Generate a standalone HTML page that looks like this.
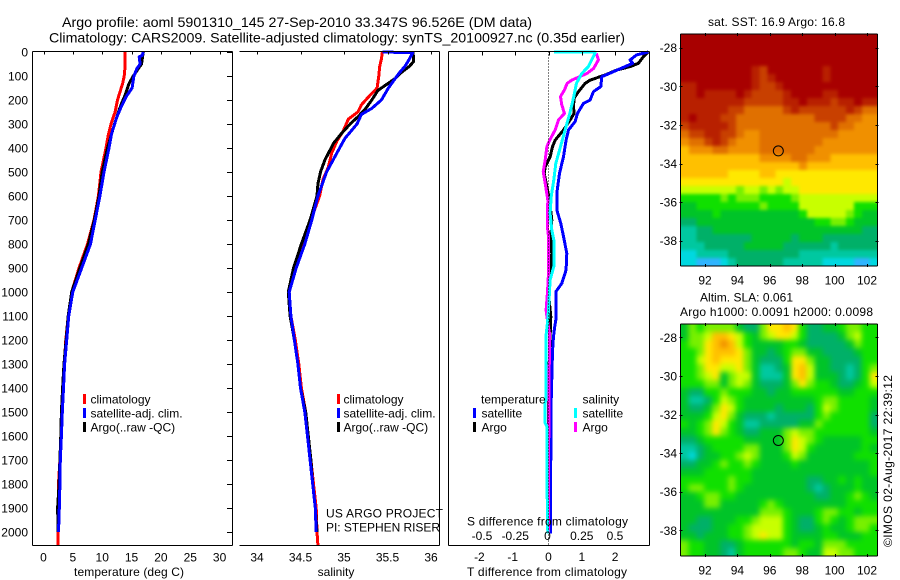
<!DOCTYPE html>
<html lang="en">
<head>
<meta charset="utf-8">
<title>Argo profile chart</title>
<style>
html,body{margin:0;padding:0;background:#fff;}
#chart{display:block;width:900px;height:580px;}
text{font-family:"Liberation Sans",sans-serif;font-size:12px;fill:#000;}
</style>
</head>
<body>
<svg id="chart" width="900" height="580" viewBox="0 0 900 580" xmlns="http://www.w3.org/2000/svg">
<defs>
<filter id="blur-sst" x="660" y="14" width="240" height="272" filterUnits="userSpaceOnUse" color-interpolation-filters="sRGB"><feGaussianBlur stdDeviation="1.5"/></filter>
<filter id="blur-sla" x="660" y="304" width="240" height="272" filterUnits="userSpaceOnUse" color-interpolation-filters="sRGB"><feGaussianBlur stdDeviation="2.6"/></filter>
<clipPath id="clip-sst"><rect x="680" y="34" width="198" height="232"/></clipPath>
<clipPath id="clip-sla"><rect x="680" y="324" width="198" height="232"/></clipPath>
</defs>
<text x="62" y="27" style="font-size:14px" textLength="470" lengthAdjust="spacingAndGlyphs">Argo profile: aoml 5901310_145 27-Sep-2010 33.347S 96.526E (DM data)</text>
<text x="49" y="42.5" style="font-size:14px" textLength="576" lengthAdjust="spacingAndGlyphs">Climatology: CARS2009. Satellite-adjusted climatology: synTS_20100927.nc (0.35d earlier)</text>
<g id="layer-maps"></g>
<g id="layer-lines"></g>
<g id="layer-axes"></g>

<text x="74" y="576" textLength="110">temperature (deg C)</text>
<text x="336" y="576" text-anchor="middle">salinity</text>
<text x="467" y="576" textLength="160">T difference from climatology</text>
<text x="467" y="525.5" textLength="161">S difference from climatology</text>

<g>
<rect x="83" y="394" width="3" height="10" fill="#ff0000"/>
<rect x="83" y="408" width="3" height="10" fill="#0000ff"/>
<rect x="83" y="422" width="3" height="10" fill="#000000"/>
<text x="90.5" y="403.5">climatology</text>
<text x="90.5" y="417.5">satellite-adj. clim.</text>
<text x="90.5" y="431.5">Argo(..raw -QC)</text>
</g>
<g>
<rect x="337" y="394" width="3" height="10" fill="#ff0000"/>
<rect x="337" y="408" width="3" height="10" fill="#0000ff"/>
<rect x="337" y="422" width="3" height="10" fill="#000000"/>
<text x="343.5" y="403.5">climatology</text>
<text x="343.5" y="417.5">satellite-adj. clim.</text>
<text x="343.5" y="431.5">Argo(..raw -QC)</text>
<text x="326" y="517.5" textLength="117">US ARGO PROJECT</text>
<text x="326" y="531.5" textLength="114">PI: STEPHEN RISER</text>
</g>
<g>
<text x="481" y="403.5">temperature</text>
<text x="582.5" y="403.5">salinity</text>
<rect x="473" y="408" width="3" height="10" fill="#0000ff"/>
<rect x="473" y="422" width="3" height="10" fill="#000000"/>
<rect x="574" y="408" width="3" height="10" fill="#00ffff"/>
<rect x="574" y="422" width="3" height="10" fill="#ff00ff"/>
<text x="481.5" y="417.5">satellite</text>
<text x="481.5" y="431.5">Argo</text>
<text x="582.5" y="417.5">satellite</text>
<text x="582.5" y="431.5">Argo</text>
</g>

<text x="708" y="26" textLength="137">sat. SST: 16.9 Argo: 16.8</text>
<text x="700" y="301.5" textLength="93">Altim. SLA: 0.061</text>
<text x="680" y="316" textLength="193">Argo h1000: 0.0091 h2000: 0.0098</text>
<text transform="translate(892,547) rotate(-90)" textLength="172">©IMOS 02-Aug-2017 22:39:12</text>
</svg>

<script>
/* ---------- profile data (depth in m) ---------- */
const tempClimDepth = [0,60,100,130,200,250,300,350,400,500,600,700,800,900,1000,1100,1200,1300,1400,1500,1600,1700,1800,1900,2000,2055];
const tempClim = [13.9,13.9,13.75,13.5,12.6,12.2,11.5,11,10.65,9.8,9.35,8.6,7.5,6.05,4.8,4.2,3.8,3.55,3.3,3.1,2.95,2.8,2.55,2.5,2.5,2.5];
const tempSatDepth = [0,15,20,50,70,100,150,185,225,270,340,400,500,600,700,800,900,1000,1100,1200,1300,1400,1500,1600,1700,1800,1900,2000];
const tempSat = [17,16.8,16.3,16.45,15.9,15.4,15.1,14.1,13.3,12.5,11.6,11.15,10.3,9.6,8.8,8,6.5,5,4.3,3.95,3.6,3.4,3.2,3.05,2.87,2.8,2.7,2.55];
const tempArgoDepth = [0,50,100,130,180,220,300,400,500,600,700,800,900,1000,1100,1200,1300,1400,1500,1600,1700,1800,1900,2000];
const tempArgo = [17,16.7,15.3,14.6,13.9,13.2,12.1,10.9,10,9.45,8.65,7.65,6.2,4.8,4.2,3.85,3.5,3.25,3.05,2.95,2.8,2.65,2.4,2.5];

const salClimDepth = [0,30,60,100,150,180,220,250,280,330,370,420,480,530,600,700,800,900,1000,1100,1200,1300,1400,1500,1600,1700,1800,1900,2000,2055];
const salClim = [35.44,35.43,35.41,35.4,35.38,35.3,35.2,35.16,35.05,34.99,34.92,34.86,34.82,34.76,34.72,34.62,34.52,34.44,34.37,34.39,34.44,34.48,34.51,34.56,34.59,34.62,34.65,34.68,34.69,34.7];
const salSatDepth = [0,3,30,60,85,110,150,200,235,260,300,360,420,500,560,600,700,800,900,1000,1100,1200,1300,1400,1500,1600,1700,1800,1900,2000];
const salSat = [35.44,35.79,35.75,35.7,35.64,35.59,35.51,35.43,35.32,35.2,35.15,35.01,34.92,34.8,34.74,34.7,34.63,34.55,34.45,34.37,34.39,34.43,34.47,34.5,34.55,34.58,34.61,34.64,34.67,34.68];
const salArgoDepth = [0,20,40,60,85,110,130,160,200,240,270,300,340,380,450,500,550,600,700,800,900,1000,1100,1200,1300,1400,1500,1600,1700,1800,1900,2000];
const salArgo = [35.79,35.8,35.8,35.75,35.66,35.59,35.51,35.39,35.32,35.24,35.16,35.07,34.97,34.88,34.78,34.73,34.7,34.69,34.61,34.51,34.42,34.36,34.38,34.43,34.47,34.5,34.56,34.59,34.62,34.64,34.67,34.69];

const dTSatDepth = [0,12,33,47,61,82,103,144,165,200,214,256,290,325,367,436,506,589,658,714,783,839,908,964,999,1075,1117,1151,1186,1248,1450,1852,2006];
const dTSat = [3,2.65,2.45,2.53,2.3,1.95,1.6,1.57,1.35,1.25,1.05,.87,.8,.6,.53,.45,.33,.25,.25,.37,.47,.55,.53,.4,.22,.22,.22,.18,.15,.12,.08,.06,.06];
const dTArgoDepth = [0,19,47,61,75,96,117,131,165,193,228,256,283,325,367,394,436,478,506,561,617,700,783,839,922,1006,1103,1380,2006];
const dTArgo = [3,2.85,2.7,2.45,2.05,1.7,1.25,1.1,.9,.77,.75,.77,.65,.45,.2,.12,.05,-.1,-.13,-.05,.03,.1,.07,.1,.07,0,.07,0,0];
const dSSatDepth = [0,1,6,33,61,89,131,186,256,325,394,464,533,603,672,742,783,894,950,1075,1130,1179,1450,1460,1547,1560,1769,2006];
const dSSat = [.04,.35,.35,.325,.3,.25,.21,.19,.16,.125,.09,.055,.04,.02,.012,.025,.04,.04,.012,0,-.008,-.018,-.018,-.025,-.025,-.012,-.012,-.005];
const dSArgoDepth = [6,33,68,89,117,131,158,186,221,256,283,325,367,394,450,499,547,617,728,769,922,1006,1075,1103,1172,1256,1450,1547,2006];
const dSArgo = [.36,.375,.34,.29,.175,.14,.12,.09,.1,.12,.075,.05,.01,-.012,-.025,-.04,-.025,-.005,-.008,0,0,-.008,-.018,-.012,.007,.007,.002,.002,0];

/* ---------- tick labels ---------- */
const depthTicks = [0,100,200,300,400,500,600,700,800,900,1000,1100,1200,1300,1400,1500,1600,1700,1800,1900,2000];
const tempTicks = [0,5,10,15,20,25,30];
const salTicks = [34,34.5,35,35.5,36];
const salTickLabels = ['34','34.5','35','35.5','36'];
const dTTicks = [-2,-1,0,1,2];
const dTTickLabels = ['-2','-1','0','1','2'];
const dSTicks = [-0.5,-0.25,0,0.25,0.5];
const dSTickLabels = ['-0.5','-0.25','0','0.25','0.5'];
const lonTicks = [92,94,96,98,100,102];
const latTicks = [28,30,32,34,36,38];

/* ---------- map values (colour-scale level, 0 = cold/low, 14 = warm/high) ---------- */
const sstRows = [
[14,14,14,14,14,14,14,14,14,14,14,14,14,14,14,14,14,14,14,14,14,14,14,14,14],
[14,14,14,14,14,14,14,14,14,14,14,14,14,14,14,14,14,14,14,14,14,14,14,14,14],
[14,14,14,14,14,14,14,14,14,14,14,14,14,14,14,14,14,14,14,14,14,14,14,14,14],
[14,14,14,14,14,14,14,14,14,14,14,14,14,14,14,14,14,14,14,14,14,14,14,14,14],
[14,14,14,14,14,14,14,14,14,13,12,14,14,14,14,14,14,14,13,14,14,14,14,14,14],
[14,14,14,14,14,14,14,14,14,13,12,13,14,14,14,14,14,14,13,14,14,14,14,14,14],
[13,13,14,14,14,14,14,14,14,13,12,12,13,14,14,14,14,14,14,14,14,14,14,14,14],
[13,13,14,13,13,13,13,14,13,12,12,12,12,13,14,14,14,14,13,13,14,14,14,14,14],
[13,13,13,13,13,13,13,13,12,12,12,12,12,13,13,14,13,13,13,12,13,13,14,13,13],
[13,13,13,13,13,13,12,12,11,11,11,11,11,12,13,12,12,12,12,12,12,13,12,11,11],
[13,14,13,13,13,12,12,11,11,11,11,11,11,11,11,11,11,12,12,12,12,11,11,10,10],
[12,13,13,13,13,13,12,11,11,11,11,11,11,11,11,11,11,11,11,12,11,11,10,10,10],
[11,12,12,13,13,12,12,11,10,10,11,11,11,11,11,11,11,11,11,11,10,10,10,10,10],
[10,11,11,12,13,12,11,10,10,10,11,11,11,11,11,11,11,11,10,10,10,10,10,10,10],
[9,10,10,10,11,11,10,10,10,10,11,11,11,11,11,11,11,10,10,10,10,10,10,10,10],
[9,9,9,9,9,9,9,9,9,9,10,10,10,10,11,11,10,10,10,9,9,9,9,9,9],
[9,9,9,9,9,9,9,9,9,9,9,9,9,9,9,10,9,9,9,9,9,9,9,9,9],
[9,9,9,9,9,9,8,8,8,8,9,9,8,8,8,8,8,8,8,8,8,8,8,8,8],
[8,8,8,8,8,8,8,8,8,8,8,8,8,7,8,8,8,8,8,8,8,8,8,8,8],
[7,7,7,7,7,7,7,6,7,7,6,7,6,7,7,8,8,8,8,8,8,8,8,8,8],
[5,5,5,5,5,6,5,6,6,6,5,5,5,5,6,7,7,7,7,7,7,7,7,7,7],
[4,4,5,5,5,5,5,5,5,5,6,5,5,5,5,7,7,7,7,7,7,7,5,5,5],
[4,4,4,4,5,4,4,4,4,4,4,4,4,4,4,5,7,7,7,7,7,6,5,4,4],
[3,3,4,4,4,4,4,4,4,4,4,4,4,4,4,4,4,5,5,6,6,5,4,4,4],
[2,2,3,3,4,4,4,4,4,4,4,4,4,4,4,4,4,4,4,4,4,4,4,3,3],
[2,2,3,3,3,3,3,3,3,4,4,4,4,4,3,4,4,4,3,3,3,3,3,3,3],
[2,2,2,3,3,3,3,3,4,4,4,4,4,3,3,3,3,3,3,2,3,3,3,3,3],
[1,1,2,2,2,2,3,3,3,3,3,3,3,3,3,2,2,2,2,2,2,2,2,2,2],
[1,1,0,0,0,1,2,3,3,3,3,3,3,2,2,2,2,2,1,1,1,1,0,0,1]
];
const slaRows = [
[4,6,5,6,6,6,6,4,3,3,6,8,8,9,8,5,3,3,4,4,5,6,6,5,5],
[4,6,6,7,9,9,8,7,5,4,6,7,8,8,7,5,3,3,3,3,4,6,7,5,5],
[5,6,6,8,9,10,9,7,5,4,4,4,4,5,5,4,3,3,3,3,3,4,6,5,5],
[5,5,6,8,9,9,9,8,6,4,4,3,4,5,6,6,4,4,3,3,3,3,4,5,5],
[5,5,7,8,9,8,8,8,6,4,3,3,3,5,8,8,6,4,4,3,3,3,3,5,5],
[5,5,6,8,8,7,7,8,6,4,2,2,3,4,8,9,7,4,4,3,3,2,3,5,6],
[5,5,6,7,8,4,6,7,7,4,2,2,2,4,8,9,7,4,4,4,3,2,3,5,8],
[5,5,5,6,6,4,6,7,6,4,3,3,3,4,6,8,6,5,5,4,3,3,4,5,7],
[4,3,3,5,5,6,5,5,5,4,4,3,4,4,5,5,5,5,5,5,4,4,5,5,5],
[4,2,2,3,5,7,6,5,4,4,4,4,4,4,4,4,4,5,6,6,5,5,5,5,4],
[4,3,3,4,6,8,7,5,4,4,4,4,3,4,4,4,3,5,7,6,5,5,5,5,4],
[4,4,4,5,7,8,6,4,3,3,3,2,3,3,3,3,3,5,6,5,5,5,5,5,3],
[5,4,5,6,8,7,5,4,2,2,3,3,3,3,3,4,4,6,5,5,5,5,5,5,3],
[4,4,5,6,8,6,5,4,3,3,4,4,4,6,7,6,6,5,5,5,5,5,5,5,4],
[3,3,4,5,5,5,5,5,4,4,4,4,4,6,8,7,6,5,4,4,4,4,4,5,5],
[2,2,3,4,5,5,5,5,6,6,4,4,4,6,8,7,5,4,4,4,4,4,4,5,4],
[2,1,3,4,4,5,5,6,7,6,4,4,4,5,7,6,4,4,4,4,4,4,5,5,5],
[3,3,4,4,5,6,5,5,6,5,4,4,4,4,5,4,4,4,4,4,4,4,4,4,5],
[4,4,4,5,5,5,5,5,5,4,4,4,4,4,4,4,4,4,4,4,4,4,4,4,5],
[5,5,5,5,5,5,6,5,5,4,4,4,4,4,4,4,3,3,4,4,5,4,5,4,4],
[5,6,6,5,5,5,6,5,4,4,4,4,4,4,4,4,3,2,3,4,4,4,5,4,4],
[4,4,5,6,6,5,5,4,4,4,4,4,4,4,4,4,4,3,3,4,4,5,6,5,4],
[4,4,4,6,6,4,4,4,4,4,5,6,5,4,4,4,4,4,4,4,4,5,5,5,5],
[4,4,4,4,4,4,4,4,4,4,6,6,6,5,4,4,4,5,6,6,5,5,4,5,5],
[4,4,3,3,4,4,4,5,5,6,7,7,7,5,4,3,3,5,6,5,4,5,6,6,6],
[4,3,3,3,4,4,5,5,6,7,7,7,7,5,4,3,3,4,5,4,4,5,6,6,5],
[4,4,3,4,4,4,5,5,6,7,8,7,7,5,4,4,4,4,5,5,4,4,4,5,5],
[6,5,5,4,4,3,3,4,5,5,5,5,5,5,4,5,5,4,6,6,6,5,5,5,5],
[6,5,5,4,4,3,2,4,5,5,5,5,5,6,6,5,4,4,7,7,6,6,5,5,5]
];
const argoLon = [96.526];
const argoLat = [33.347];

/* ---------- helpers ---------- */
const NS = 'http://www.w3.org/2000/svg';
const linesLayer = document.getElementById('layer-lines');
const axesLayer = document.getElementById('layer-axes');
const mapsLayer = document.getElementById('layer-maps');

function yDepth(d){ return 52 + d * 0.24; }
function xTemp(t){ return 43.5 + t * 5.87; }
function xSal(s){ return 257 + (s - 34) * 87; }
function xDT(t){ return 548.5 + t * 33.3; }
function xDS(s){ return 548.5 + s * 133; }
function xLon(lon){ return 705 + (lon - 92) * 16.2; }
function yLatTop(lat){ return 47.7 + (lat - 28) * 19.3; }
function yLatBottom(lat){ return 337.3 + (lat - 28) * 19.3; }

function mk(tag, parent){
  const el = document.createElementNS(NS, tag);
  parent.appendChild(el);
  return el;
}
function line(x1,y1,x2,y2,name){
  const el = mk('line', axesLayer);
  el.setAttribute('x1', x1); el.setAttribute('y1', y1);
  el.setAttribute('x2', x2); el.setAttribute('y2', y2);
  el.setAttribute('stroke', '#000');
  el.setAttribute('stroke-width', '1');
  el.setAttribute('shape-rendering', 'crispEdges');
  
  
  return el;
}
function label(x,y,str,anchor,name){
  const el = mk('text', axesLayer);
  el.setAttribute('x', x); el.setAttribute('y', y);
  el.setAttribute('text-anchor', anchor);
  el.textContent = str;
  
  
  return el;
}
function profile(depths, vals, xf, color, name){
  const el = mk('polyline', linesLayer);
  const pts = vals.map(function(v,i){ return xf(v).toFixed(1) + ',' + yDepth(depths[i]).toFixed(1); });
  el.setAttribute('points', pts.join(' '));
  el.setAttribute('fill', 'none');
  el.setAttribute('stroke', color);
  el.setAttribute('stroke-width', '3');
  el.setAttribute('stroke-linejoin', 'round');
  el.setAttribute('shape-rendering', 'crispEdges');
  
  
}
function levelColor(v){
  const scale = ['#30b4ff','#00d8e0','#00c8a0','#00b068','#00c428','#10e000','#78f000','#c8ff00','#ffe800','#ffc000','#f09000','#e07000','#c84000','#b82000','#a80000'];
  return scale[Math.max(0, Math.min(14, Math.round(v)))];
}
function heatmap(rows, left, top, width, height, name, clipId, filterId){
  const clip = mk('g', mapsLayer);
  clip.setAttribute('clip-path', 'url(#' + clipId + ')');
  
  
  const g = mk('g', clip);
  g.setAttribute('filter', 'url(#' + filterId + ')');
  
  
  const cw = width / rows[0].length, ch = height / rows.length;
  const nx = rows[0].length - 1, ny = rows.length - 1;
  rows.forEach(function(row, j){
    row.forEach(function(v, i){
      const r = mk('rect', g);
      /* edge cells run past the frame so the smoothing does not fade at the border */
      const x0 = i === 0 ? left - 12 : left + i * cw;
      const x1 = i === nx ? left + width + 12 : left + (i + 1) * cw + 0.3;
      const y0 = j === 0 ? top - 12 : top + j * ch;
      const y1 = j === ny ? top + height + 12 : top + (j + 1) * ch + 0.3;
      r.setAttribute('x', x0.toFixed(2));
      r.setAttribute('y', y0.toFixed(2));
      r.setAttribute('width', (x1 - x0).toFixed(2));
      r.setAttribute('height', (y1 - y0).toFixed(2));
      r.setAttribute('fill', levelColor(v));
      r.setAttribute('shape-rendering', 'crispEdges');
      
      
    });
  });
}

/* ---------- maps ---------- */
heatmap(sstRows, 681, 34, 196.5, 232, 'sst-heatmap', 'clip-sst', 'blur-sst');
heatmap(slaRows, 680.5, 324, 197, 232, 'sla-heatmap', 'clip-sla', 'blur-sla');

function mapAxes(top, bottom, yf, tag){
  const left = 680.5, right = 877.5;
  line(left, top, right, top, tag + '-frame-top');
  line(left, bottom, right, bottom, tag + '-frame-bottom');
  line(left, top, left, bottom, tag + '-frame-left');
  line(right, top, right, bottom, tag + '-frame-right');
  lonTicks.forEach(function(lon){
    const x = Math.round(xLon(lon)) + 0.5;
    line(x, top - 1, x, top + 2, tag + '-lon-tick-top');
    line(x, bottom - 2, x, bottom + 1, tag + '-lon-tick-bottom');
    label(xLon(lon), bottom + 18.5, String(lon), 'middle', tag + '-lon-label');
  });
  latTicks.forEach(function(lat){
    const y = Math.round(yf(lat)) + 0.5;
    line(left - 1, y, left + 2, y, tag + '-lat-tick-left');
    line(right - 2, y, right + 1, y, tag + '-lat-tick-right');
    label(677, yf(lat) + 4.5, '-' + lat, 'end', tag + '-lat-label');
  });
  const c = mk('circle', axesLayer);
  c.setAttribute('cx', xLon(argoLon[0]));
  c.setAttribute('cy', yf(argoLat[0]));
  c.setAttribute('r', '5');
  c.setAttribute('fill', 'none');
  c.setAttribute('stroke', '#000');
  
  
}
mapAxes(34, 266, yLatTop, 'sst-map');
mapAxes(324, 556, yLatBottom, 'sla-map');

/* ---------- profile lines ---------- */
profile(tempClimDepth, tempClim, xTemp, '#ff0000', 'temperature-climatology-line');
profile(tempArgoDepth, tempArgo, xTemp, '#000000', 'temperature-argo-line');
profile(tempSatDepth, tempSat, xTemp, '#0000ff', 'temperature-satellite-line');
profile(salClimDepth, salClim, xSal, '#ff0000', 'salinity-climatology-line');
profile(salArgoDepth, salArgo, xSal, '#000000', 'salinity-argo-line');
profile(salSatDepth, salSat, xSal, '#0000ff', 'salinity-satellite-line');
profile(dTArgoDepth, dTArgo, xDT, '#000000', 't-difference-argo-line');
profile(dTSatDepth, dTSat, xDT, '#0000ff', 't-difference-satellite-line');
profile(dSArgoDepth, dSArgo, xDS, '#ff00ff', 's-difference-argo-line');
profile(dSSatDepth, dSSat, xDS, '#00ffff', 's-difference-satellite-line');

/* ---------- profile axes ---------- */
const top0 = 51.5, bot0 = 545.5;
line(32.5, top0, 232.5, top0, 'temperature-frame-top');
line(32.5, bot0, 232.5, bot0, 'temperature-frame-bottom');
line(32.5, top0, 32.5, bot0, 'temperature-frame-left');
line(232.5, top0, 232.5, bot0, 'temperature-frame-right');
line(239.5, top0, 439.5, top0, 'salinity-frame-top');
line(239.5, bot0, 439.5, bot0, 'salinity-frame-bottom');
line(439.5, top0, 439.5, bot0, 'salinity-frame-right');
line(448.5, top0, 649.5, top0, 'difference-frame-top');
line(448.5, bot0, 649.5, bot0, 'difference-frame-bottom');
line(448.5, top0, 448.5, bot0, 'difference-frame-left');
line(649.5, top0, 649.5, bot0, 'difference-frame-right');

const zero = line(xDT(0), top0, xDT(0), bot0, 'zero-difference-line');
zero.setAttribute('stroke-dasharray', '1 2');

depthTicks.forEach(function(d){
  const y = Math.round(yDepth(d)) + 0.5;
  line(227, y, 232, y, 'depth-tick');
  label(28, yDepth(d) + 4.5, String(d), 'end', 'depth-tick-label');
});
tempTicks.forEach(function(t){
  const x = Math.round(xTemp(t)) + 0.5;
  line(x, top0, x, top0 + 3, 'temperature-tick');
  label(xTemp(t), 561.5, String(t), 'middle', 'temperature-tick-label');
});
salTicks.forEach(function(s, i){
  const x = Math.round(xSal(s)) + 0.5;
  line(x, top0, x, top0 + 3, 'salinity-tick');
  label(xSal(s), 561.5, salTickLabels[i], 'middle', 'salinity-tick-label');
});
dTTicks.forEach(function(t, i){
  const x = Math.round(xDT(t)) + 0.5;
  line(x, top0, x, top0 + 4, 't-difference-tick');
  label(xDT(t) - (t < 0 ? 2.5 : 0), 561, dTTickLabels[i], 'middle', 't-difference-tick-label');
});
dSTicks.forEach(function(s, i){
  label(xDS(s) - (s === 0 ? 1 : 0), 540, dSTickLabels[i], 'middle', 's-difference-tick-label');
});
</script>
</body>
</html>
